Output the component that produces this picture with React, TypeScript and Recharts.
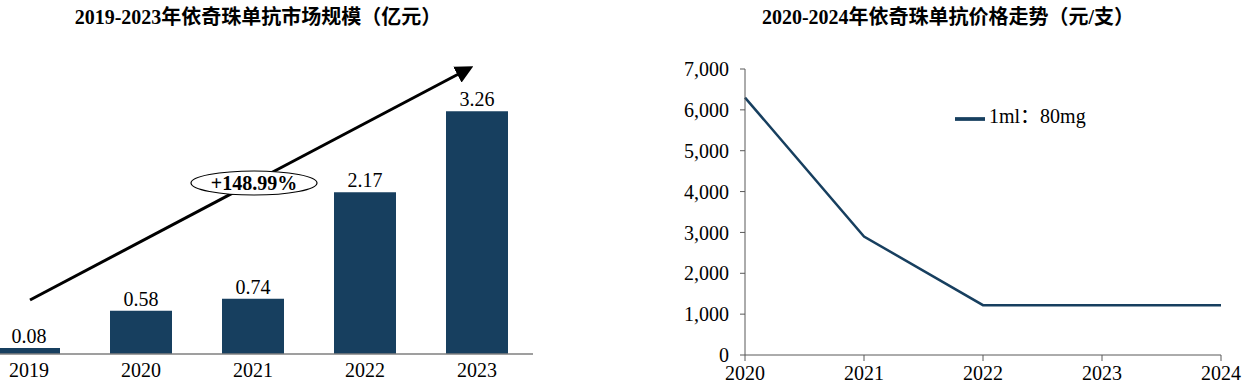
import {
  Bar,
  BarChart,
  LabelList,
  Legend,
  Line,
  LineChart,
  XAxis,
  YAxis,
} from "recharts";

const marketYears = ["2019", "2020", "2021", "2022", "2023"];
const marketSize = [0.08, 0.58, 0.74, 2.17, 3.26];

const priceYears = ["2020", "2021", "2022", "2023", "2024"];
const price80mg = [6300, 2900, 1220, 1220, 1220];
const priceTicks = [0, 1000, 2000, 3000, 4000, 5000, 6000, 7000];

const growthLabel = "+148.99%";
const leftTitle = "2019-2023年依奇珠单抗市场规模（亿元）";
const rightTitle = "2020-2024年依奇珠单抗价格走势（元/支）";

const NAVY = "#173f5f";
const FONT = '"Liberation Serif", "Times New Roman", "Noto Sans CJK SC", serif';

const marketData = marketYears.map((y, i) => ({ year: y, value: marketSize[i] }));
const priceData = priceYears.map((y, i) => ({ year: y, price: price80mg[i] }));

const titleStyle = {
  position: "absolute" as const,
  top: 1,
  fontFamily: FONT,
  fontWeight: 700,
  fontSize: 20,
  color: "#000",
  whiteSpace: "nowrap" as const,
  transform: "translateX(-50%)",
};

const tickFont = { fill: "#000", fontSize: 20, fontFamily: FONT };

export default function App() {
  return (
    <div
      style={{
        position: "absolute",
        left: 0,
        top: 0,
        width: 1250,
        height: 389,
        overflow: "hidden",
        background: "#fff",
        fontFamily: FONT,
      }}
    >
      <div style={{ ...titleStyle, left: 258 }}>{leftTitle}</div>
      <div style={{ ...titleStyle, left: 948 }}>{rightTitle}</div>

      {/* market size bars */}
      <div style={{ position: "absolute", left: -27, top: 0 }}>
        <BarChart
          width={560}
          height={389}
          data={marketData}
          margin={{ top: 56, right: 0, bottom: 0, left: 0 }}
          barSize={62}
        >
          <XAxis
            dataKey="year"
            axisLine={{ stroke: "#7f7f7f", strokeWidth: 1.5 }}
            tickLine={false}
            tickMargin={3}
            height={35}
            tick={tickFont}
          />
          <YAxis hide domain={[0, 4]} />
          <Bar dataKey="value" fill={NAVY} isAnimationActive={false}>
            <LabelList
              dataKey="value"
              position="top"
              offset={5}
              formatter={(v: number) => v.toFixed(2)}
              style={{ fill: "#000", fontSize: 20, fontFamily: FONT }}
            />
          </Bar>
        </BarChart>
      </div>

      {/* growth arrow annotation */}
      <svg
        width={560}
        height={389}
        style={{ position: "absolute", left: 0, top: 0, pointerEvents: "none" }}
      >
        <defs>
          <marker
            id="arrowHead"
            markerWidth="6"
            markerHeight="6"
            refX="4"
            refY="3"
            orient="auto"
            markerUnits="strokeWidth"
          >
            <path d="M0,0 L6,3 L0,6 Z" fill="#000" />
          </marker>
        </defs>
        <line
          x1={30}
          y1={300}
          x2={468}
          y2={69}
          stroke="#000"
          strokeWidth={3}
          markerEnd="url(#arrowHead)"
        />
        <ellipse cx={254} cy={183} rx={63} ry={12} fill="#fff" stroke="#000" strokeWidth={1.2} />
        <text
          x={254}
          y={190}
          textAnchor="middle"
          fontFamily={FONT}
          fontWeight={700}
          fontSize={20}
          fill="#000"
        >
          {growthLabel}
        </text>
      </svg>

      {/* price trend line */}
      <div style={{ position: "absolute", left: 650, top: 0 }}>
        <LineChart
          width={600}
          height={389}
          data={priceData}
          margin={{ top: 69, right: 29, bottom: 0, left: 0 }}
        >
          <XAxis
            dataKey="year"
            axisLine={{ stroke: "#595959" }}
            tickLine={{ stroke: "#595959" }}
            tickSize={6}
            tickMargin={5}
            height={34}
            interval={0}
            tick={tickFont}
          />
          <YAxis
            width={95}
            domain={[0, 7000]}
            ticks={priceTicks}
            axisLine={{ stroke: "#595959" }}
            tickLine={{ stroke: "#595959" }}
            tickSize={5}
            tickMargin={11}
            tickFormatter={(v: number) => v.toLocaleString("en-US")}
            tick={tickFont}
          />
          <Legend
            layout="horizontal"
            align="center"
            verticalAlign="middle"
            iconType="plainline"
            iconSize={30}
            wrapperStyle={{ position: "absolute", left: 305, top: 100, width: "auto" }}
            formatter={(value: string) => (
              <span style={{ color: "#000", fontSize: 20, fontFamily: FONT }}>{value}</span>
            )}
          />
          <Line
            type="linear"
            dataKey="price"
            name="1ml：80mg"
            stroke={NAVY}
            strokeWidth={2.5}
            dot={false}
            isAnimationActive={false}
          />
        </LineChart>
      </div>
    </div>
  );
}
